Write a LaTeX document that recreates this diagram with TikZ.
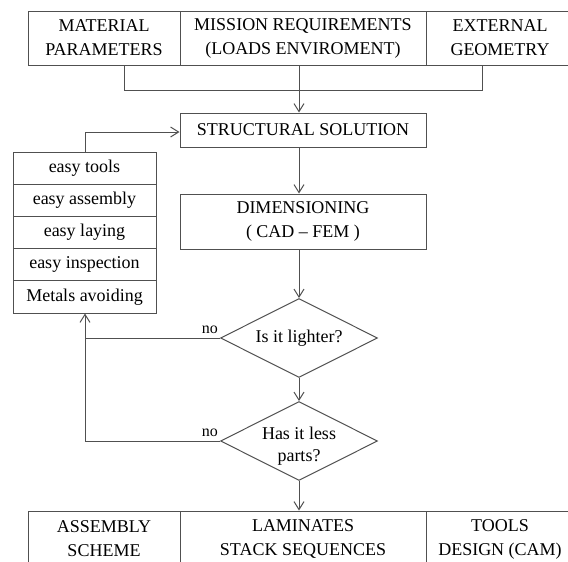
\documentclass[tikz,border=0pt]{standalone}
\usepackage{fontspec}
\setmainfont{Liberation Serif}
\usetikzlibrary{arrows.meta,shapes.geometric,calc}
\definecolor{lc}{RGB}{80,80,80}
\begin{document}
\begin{tikzpicture}[x=1pt,y=-1pt,
  ln/.style={draw=lc, line width=1pt},
  arr/.style={-{Straight Barb[length=8pt,width=10pt,line width=1pt]}},
  box/.style={ln, rectangle, inner sep=0pt, align=center, text=black,
    font=\fontsize{18}{24}\selectfont},
  item/.style={box, minimum width=143pt, minimum height=32.2pt},
  dia/.style={ln, diamond, shape aspect=2, inner sep=0pt, align=center, text=black,
    minimum width=157pt, minimum height=79pt, font=\fontsize{18}{22}\selectfont},
  dtext/.style={inner sep=0pt, align=center, text=black, font=\fontsize{18}{22}\selectfont},
  nolab/.style={inner sep=0pt, anchor=base east, font=\fontsize{16}{16}\selectfont}]
\useasboundingbox (0,0) rectangle (568,562);

% top row
\node[box, minimum width=152pt, minimum height=54pt] (mat) at (104,38) {MATERIAL\\PARAMETERS};
\node[box, minimum width=246pt, minimum height=54pt] (mis) at (303,38) {MISSION REQUIREMENTS\\(LOADS ENVIROMENT)};
\node[box, minimum width=148pt, minimum height=54pt] (ext) at (500,38) {EXTERNAL\\GEOMETRY};

% main column
\node[box, minimum width=246pt, minimum height=34pt] (sol) at (303,130) {STRUCTURAL SOLUTION};
\node[box, minimum width=246pt, minimum height=55pt] (dim) at (303,221.5) {DIMENSIONING\\( CAD -- FEM )};
\node[dia] (d1) at (299,338) {Is it lighter?};
\node[dia] (d2) at (299,441) {};
\node[dtext] (d2t) at (299,446) {Has it less\\parts?};

% bottom row
\node[box, minimum width=152pt, minimum height=56pt] (asm) at (104,539) {ASSEMBLY\\SCHEME};
\node[box, minimum width=246pt, minimum height=56pt] (lam) at (303,539) {LAMINATES\\STACK SEQUENCES};
\node[box, minimum width=148pt, minimum height=56pt] (tool) at (500,539) {TOOLS\\DESIGN (CAM)};

% list
\node[item] (l1) at (84.5,168.1) {easy tools};
\node[item] (l2) at (84.5,200.3) {easy assembly};
\node[item] (l3) at (84.5,232.5) {easy laying};
\node[item] (l4) at (84.5,264.7) {easy inspection};
\node[item] (l5) at (84.5,296.9) {Metals avoiding};

% connectors
\coordinate (jl) at (124,90);
\coordinate (jm) at (299,90);
\coordinate (jr) at (482,90);
\draw[ln] (mat.south -| jl) -- (jl) -- (jr) -- (ext.south -| jr);
\draw[ln] (mis.south -| jm) -- (jm);
\draw[ln,arr] (jm) -- (jm |- sol.north);
\draw[ln,arr] (jm |- sol.south) -- (jm |- dim.north);
\draw[ln,arr] (jm |- dim.south) -- (d1.north);
\draw[ln,arr] (d1.south) -- (d2.north);
\draw[ln,arr] (d2.south) -- (d2.south |- lam.north);

\coordinate (fb) at (85,132);
\draw[ln,arr] (l1.north -| fb) -- (fb) -- (fb -| sol.west);

\coordinate (lp) at (85,338);
\draw[ln] (d1.west) -- (d1.west -| lp);
\draw[ln,arr] (d2.west) -- (d2.west -| lp) -- (l5.south -| lp);

\node[nolab] (no1) at ($(d1.west)+(-2,-5)$) {no};
\node[nolab] (no2) at ($(d2.west)+(-2,-5)$) {no};
\end{tikzpicture}
\end{document}
